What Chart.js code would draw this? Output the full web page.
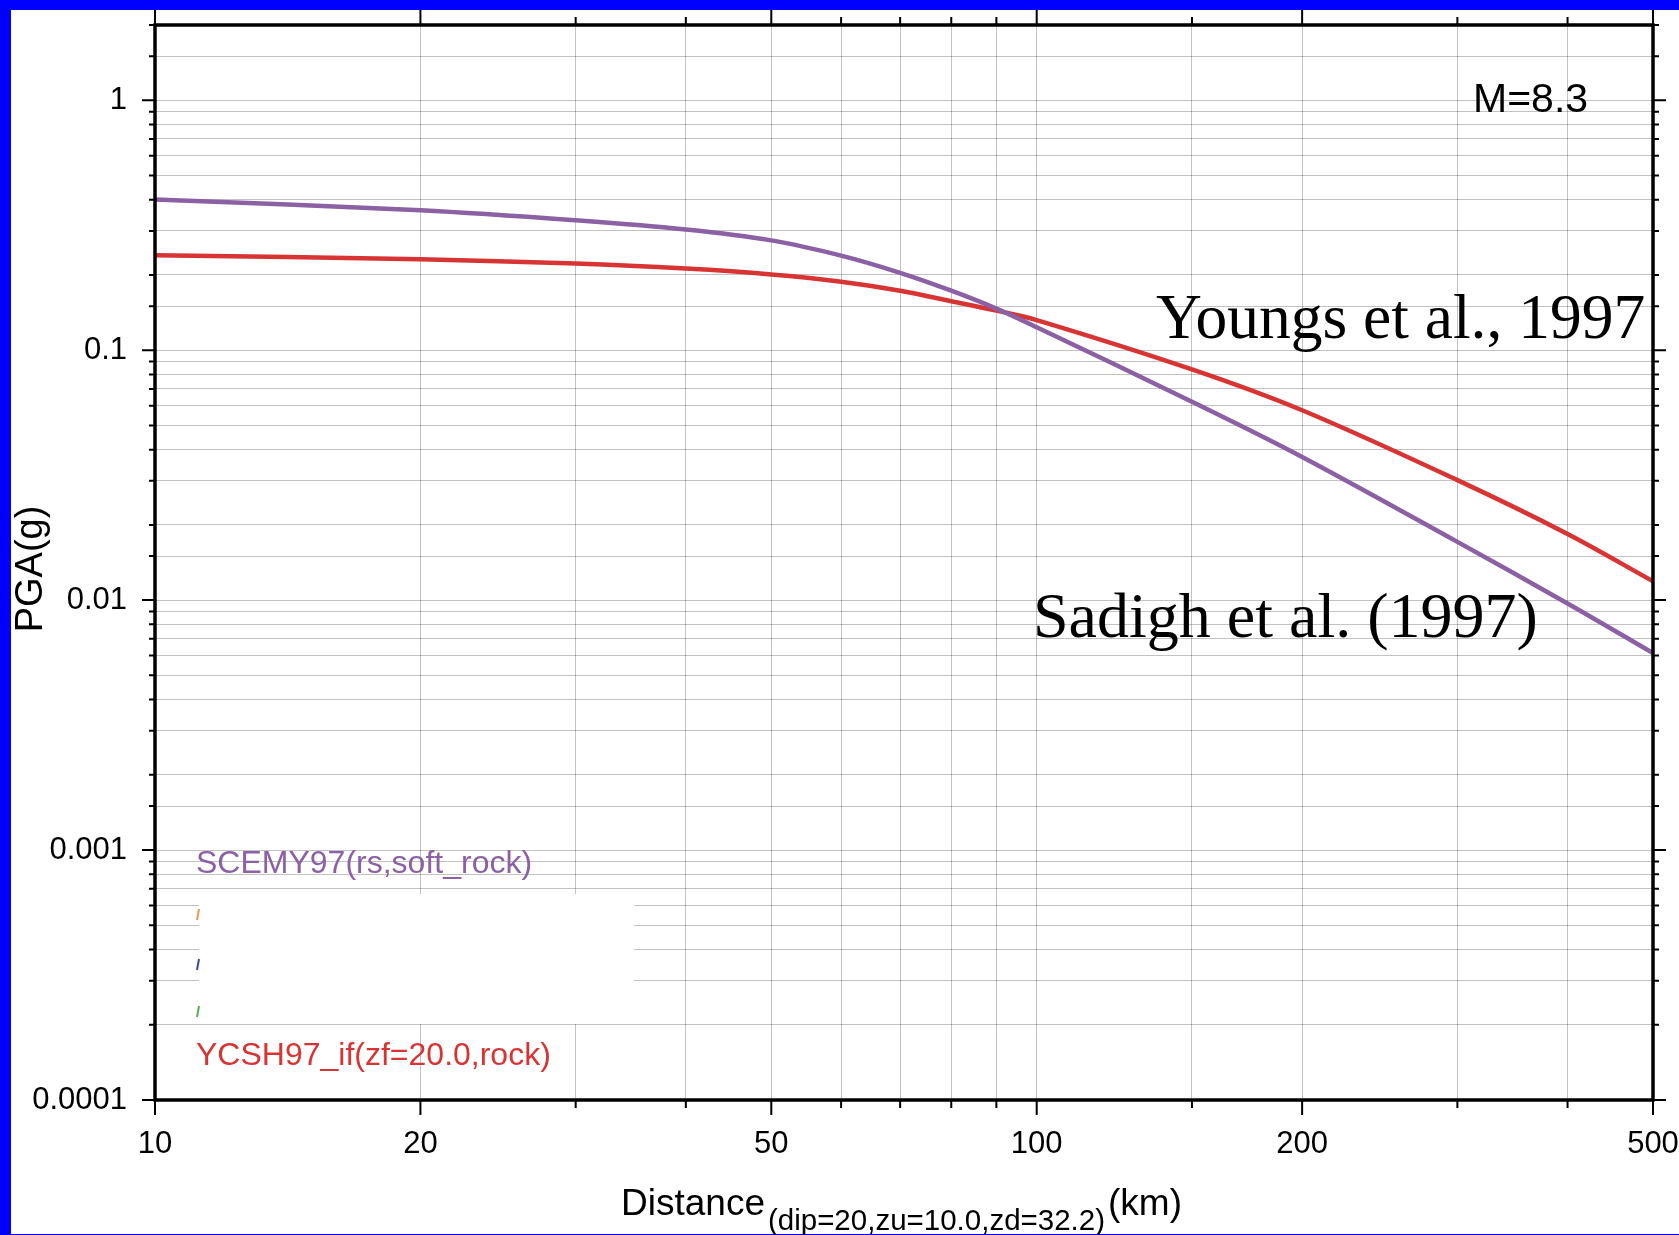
<!DOCTYPE html>
<html>
<head>
<meta charset="utf-8">
<title>PGA attenuation M=8.3</title>
<script src="https://cdn.jsdelivr.net/npm/chart.js@4/dist/chart.umd.min.js"></script>
<style>
  html, body { margin: 0; padding: 0; background: #fff; }
  canvas { display: block; }
</style>
</head>
<body>
<canvas id="chart" width="1679" height="1235"></canvas>
<script>
// distance (km) and PGA (g)
const distances = [10, 20, 30, 40, 50, 60, 70, 80, 90, 100, 150, 200, 300, 400, 500];
const sadighPGA = [0.401, 0.363, 0.331, 0.304, 0.275, 0.239, 0.204, 0.173, 0.1467, 0.1236, 0.0622, 0.0374, 0.0171, 0.0097, 0.00614];
const youngsPGA = [0.240, 0.231, 0.222, 0.212, 0.201, 0.188, 0.173, 0.157, 0.1439, 0.132, 0.0838, 0.0575, 0.0302, 0.0184, 0.0119];

const xTickLabels = [10, 20, 50, 100, 200, 500];
const yTickLabels = [0.0001, 0.001, 0.01, 0.1, 1];

const SANS = "'Liberation Sans', Arial, Helvetica, sans-serif";
const SERIF = "'Liberation Serif', 'Times New Roman', serif";
const PURPLE = '#8b60a5';
const RED = '#d83434';

const toPoints = (ys) => distances.map((d, i) => ({ x: d, y: ys[i] }));
const isLabeled = (list, v) => list.some(l => Math.abs(Math.log10(v) - Math.log10(l)) < 1e-6);

// keep the plot box fixed: drop the extra room chart.js reserves for edge labels
const noEdgePadding = (s) => {
  s.paddingTop = 0;
  s.paddingBottom = 0;
  s.paddingLeft = 0;
  s.paddingRight = 0;
};

// blue frame round the page
const pageBackground = {
  id: 'pageBackground',
  beforeDraw(chart) {
    const ctx = chart.ctx;
    ctx.save();
    ctx.fillStyle = '#0000ff';
    ctx.fillRect(0, 0, chart.width, chart.height);
    ctx.fillStyle = '#ffffff';
    ctx.fillRect(11, 10, chart.width - 11, chart.height - 11);
    ctx.restore();
  }
};

// blanked-out block under the first legend line
const legendMask = {
  id: 'legendMask',
  beforeDatasetsDraw(chart) {
    const ctx = chart.ctx;
    ctx.save();
    ctx.fillStyle = '#ffffff';
    ctx.fillRect(199, 894, 435, 130);
    ctx.lineWidth = 2;
    [['#e89a55', 909], ['#3a4fa0', 959], ['#5aae5a', 1006]].forEach(([c, y]) => {
      ctx.strokeStyle = c;
      ctx.beginPath();
      ctx.moveTo(197, y + 11);
      ctx.lineTo(199, y);
      ctx.stroke();
    });
    ctx.restore();
  }
};

// axis box with outward ticks on all four sides
const frameTicks = {
  id: 'frameTicks',
  afterDraw(chart) {
    const { ctx, chartArea: a, scales } = chart;
    ctx.save();
    ctx.strokeStyle = '#000';
    ctx.lineWidth = 2;
    ctx.beginPath();
    scales.y.ticks.forEach(t => {
      const y = scales.y.getPixelForValue(t.value);
      const len = isLabeled(yTickLabels, t.value) ? 13 : 6;
      ctx.moveTo(a.left - len, y); ctx.lineTo(a.left, y);
      ctx.moveTo(a.right, y); ctx.lineTo(a.right + len, y);
    });
    scales.x.ticks.forEach(t => {
      const x = scales.x.getPixelForValue(t.value);
      const len = isLabeled(xTickLabels, t.value) ? 15 : 8;
      ctx.moveTo(x, a.bottom); ctx.lineTo(x, a.bottom + len);
      ctx.moveTo(x, a.top); ctx.lineTo(x, a.top - len);
    });
    ctx.stroke();
    ctx.lineWidth = 3.5;
    ctx.strokeRect(a.left, a.top, a.right - a.left, a.bottom - a.top);
    ctx.restore();
  }
};

// titles, curve names and the magnitude note
const chartText = {
  id: 'chartText',
  afterDraw(chart) {
    const ctx = chart.ctx;
    ctx.save();
    ctx.textAlign = 'left';
    ctx.textBaseline = 'alphabetic';
    ctx.fillStyle = '#000';

    ctx.font = '41px ' + SANS;
    ctx.fillText('M=8.3', 1473, 112);

    ctx.font = '63.5px ' + SERIF;
    ctx.fillText('Youngs et al., 1997', 1156, 338);
    ctx.font = '64px ' + SERIF;
    ctx.fillText('Sadigh et al. (1997)', 1033, 637);

    ctx.font = '32px ' + SANS;
    ctx.fillStyle = PURPLE;
    ctx.fillText('SCEMY97(rs,soft_rock)', 196, 873);
    ctx.fillStyle = RED;
    ctx.fillText('YCSH97_if(zf=20.0,rock)', 196, 1065);

    // x title with subscript
    ctx.fillStyle = '#000';
    let x = 621;
    ctx.font = '37px ' + SANS;
    ctx.fillText('Distance', x, 1215);
    x += ctx.measureText('Distance').width + 3;
    ctx.font = '29.5px ' + SANS;
    ctx.fillText('(dip=20,zu=10.0,zd=32.2)', x, 1230);
    x += ctx.measureText('(dip=20,zu=10.0,zd=32.2)').width + 3;
    ctx.font = '37px ' + SANS;
    ctx.fillText('(km)', x, 1215);

    // y title
    ctx.translate(42, 569);
    ctx.rotate(-Math.PI / 2);
    ctx.textAlign = 'center';
    ctx.font = '38px ' + SANS;
    ctx.fillText('PGA(g)', 0, 0);
    ctx.restore();
  }
};

const gridColor = 'rgba(0,0,0,0.24)';

new Chart(document.getElementById('chart'), {
  type: 'line',
  data: {
    datasets: [
      {
        label: 'SCEMY97(rs,soft_rock)',
        data: toPoints(sadighPGA),
        borderColor: PURPLE,
        borderWidth: 4.5,
        pointRadius: 0,
        tension: 0.35
      },
      {
        label: 'YCSH97_if(zf=20.0,rock)',
        data: toPoints(youngsPGA),
        borderColor: RED,
        borderWidth: 4.5,
        pointRadius: 0,
        tension: 0.35
      }
    ]
  },
  options: {
    responsive: false,
    animation: false,
    devicePixelRatio: 1,
    layout: { autoPadding: false, padding: { left: 0, top: 25, right: 26, bottom: 0 } },
    plugins: {
      legend: { display: false },
      tooltip: { enabled: false }
    },
    scales: {
      x: {
        type: 'logarithmic',
        min: 10,
        max: 500,
        border: { display: false },
        grid: { color: gridColor, lineWidth: 1, drawTicks: false },
        ticks: {
          autoSkip: false,
          maxRotation: 0,
          minRotation: 0,
          padding: 26,
          color: '#000',
          font: { family: SANS, size: 31 },
          callback: (v) => isLabeled(xTickLabels, v) ? String(v) : ''
        },
        afterFit: (s) => { s.height = 135; noEdgePadding(s); }
      },
      y: {
        type: 'logarithmic',
        min: 0.0001,
        max: 2,
        border: { display: false },
        grid: { color: gridColor, lineWidth: 1, drawTicks: false },
        ticks: {
          autoSkip: false,
          padding: 28,
          color: '#000',
          font: { family: SANS, size: 31 },
          callback: (v) => {
            const l = yTickLabels.find(t => Math.abs(Math.log10(v) - Math.log10(t)) < 1e-6);
            return l === undefined ? '' : String(l);
          }
        },
        afterFit: (s) => { s.width = 155; noEdgePadding(s); }
      }
    }
  },
  plugins: [pageBackground, legendMask, frameTicks, chartText]
});
</script>
</body>
</html>
